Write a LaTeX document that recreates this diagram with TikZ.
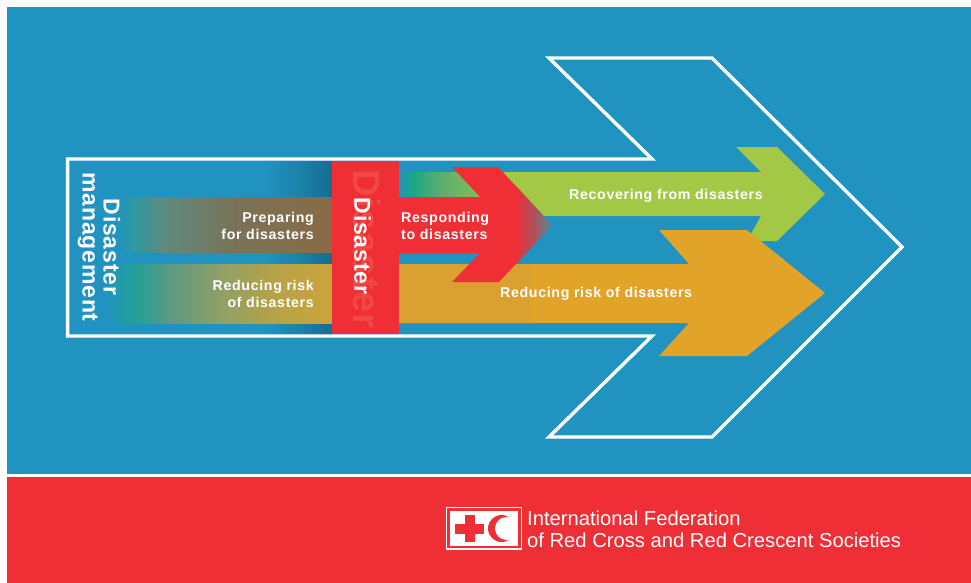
\documentclass[tikz,border=0pt]{standalone}
\usepackage{fontspec}
\setmainfont{Liberation Sans}
\newfontfamily\spacedbold[LetterSpace=4.6]{Liberation Sans Bold}
\newfontfamily\vertbold[LetterSpace=3.6]{Liberation Sans Bold}
\usetikzlibrary{calc}
\definecolor{bgblue}{HTML}{2093C0}
\definecolor{rcred}{HTML}{EF2E35}
\definecolor{ghostred}{HTML}{F1483F}
\definecolor{leaf}{HTML}{A2C845}
\definecolor{amber}{HTML}{E2A329}
\definecolor{stripdark}{HTML}{156C92}
\definecolor{stripmid}{HTML}{1D84AC}
\definecolor{prepA}{HTML}{2F9AA0}
\definecolor{prepB}{HTML}{5F8A80}
\definecolor{prepC}{HTML}{7A7258}
\definecolor{prepD}{HTML}{8A6B45}
\definecolor{redA}{HTML}{20A09A}
\definecolor{redB}{HTML}{5F9A80}
\definecolor{redC}{HTML}{8F9F68}
\definecolor{redD}{HTML}{B5A348}
\definecolor{redE}{HTML}{CDA33A}
\definecolor{tealA}{HTML}{18A884}
\definecolor{tealB}{HTML}{5CAE70}
\definecolor{tealC}{HTML}{85BF55}
\definecolor{tipdark}{HTML}{B0505A}
\definecolor{tipgrey}{HTML}{4F8C95}
\definecolor{amberdark}{HTML}{DBA130}
\pgfdeclarehorizontalshading{stripshade}{100bp}{color(0bp)=(bgblue); color(25bp)=(bgblue); color(62bp)=(bgblue); color(68bp)=(stripmid); color(75bp)=(stripdark); color(100bp)=(stripdark)}
\pgfdeclarehorizontalshading{prepband}{100bp}{color(0bp)=(bgblue); color(25bp)=(bgblue); color(29bp)=(prepA); color(36bp)=(prepB); color(52bp)=(prepC); color(75bp)=(prepD); color(100bp)=(prepD)}
\pgfdeclarehorizontalshading{riskband}{100bp}{color(0bp)=(bgblue); color(25bp)=(bgblue); color(31bp)=(redA); color(40bp)=(redB); color(50bp)=(redC); color(62bp)=(redD); color(75bp)=(redE); color(100bp)=(redE)}
\pgfdeclarehorizontalshading{leafband}{100bp}{color(0bp)=(bgblue); color(25bp)=(bgblue); color(33bp)=(tealA); color(50bp)=(tealB); color(75bp)=(tealC); color(100bp)=(tealC)}
\pgfdeclarehorizontalshading{tipband}{100bp}{color(0bp)=(rcred); color(25bp)=(rcred); color(50bp)=(tipdark); color(75bp)=(tipgrey); color(100bp)=(tipgrey)}
\tikzset{
  x=1pt,y=-1pt,
  outline/.style={draw=white,line width=3.4pt,miter limit=10,line join=miter},
  lab/.style={text=white,font=\spacedbold\fontsize{14.2}{17}\selectfont,inner sep=0pt,align=right},
  vlab/.style={text=white,font=\vertbold\fontsize{23}{21}\selectfont,inner sep=0pt,align=center,rotate=-90},
  logotext/.style={text=white,font=\fontsize{20.2}{23}\selectfont,inner sep=0pt,align=left,anchor=west},
}
\begin{document}
\begin{tikzpicture}
\useasboundingbox (0,0) rectangle (971,583);
\fill[white] (0,0) rectangle (971,583);
\fill[bgblue] (7,7) rectangle (971,474);
\fill[rcred] (7,477) rectangle (971,583);
% inner gradients
\shade[shading=stripshade] (70,161) rectangle (332,334);
\shade[shading=prepband] (118,197) rectangle (332,252);
\shade[shading=riskband] (105,264) rectangle (332,323);
% green arrow
\shade[shading=leafband] (399,172) rectangle (482,197);
\fill[leaf] (480,172) -- (761,172) -- (736,147) -- (777,147) -- (825,194) -- (777,241) -- (747,241) -- (761,216) -- (480,216) -- cycle;
% amber arrow
\fill[amber] (399,264) -- (689,264) -- (659,230) -- (747,230) -- (825,293) -- (747,356) -- (659,356) -- (689,323) -- (399,323) -- cycle;
\fill[amberdark] (399,264) rectangle (530,323);
% red arrow and cross band
\fill[rcred] (399,197) -- (480,197) -- (452,167) -- (498,167) -- (552,225) -- (499,282) -- (452,282) -- (480,253) -- (399,253) -- cycle;
\begin{scope}
\clip (515,185) -- (552,225) -- (515,265) -- cycle;
\shade[shading=tipband] (515,180) rectangle (552,270);
\end{scope}
\fill[rcred] (332,161) rectangle (399,334);
% white arrow outline
\draw[outline] (67.6,159) -- (652,159) -- (549,58) -- (712,58) -- (902,247) -- (712,437) -- (549,437) -- (652,336) -- (67.6,336) -- cycle;
% labels
\node[vlab,text=ghostred,font=\vertbold\fontsize{38}{40}\selectfont] (ghost) at (367,249) {Disaster};
\node[vlab] (dis) at (362.5,246) {Disaster};
\node[vlab] (mgmt) at (99,247) {Disaster\\management};
\node[lab,anchor=east] (prep) at (314,226) {Preparing\\for disasters};
\node[lab,anchor=east] (risk) at (314,294) {Reducing risk\\of disasters};
\node[lab,anchor=west,align=left] (resp) at (401,226) {Responding\\to disasters};
\node[lab,anchor=west] (recov) at (569,196) {Recovering from disasters};
\node[lab,anchor=west] (riskb) at (500,294) {Reducing risk of disasters};
% logo
\draw[white,line width=1.1pt] (446.5,507.5) rectangle (521.5,549);
\fill[white] (450,511) rectangle (518,546);
\fill[rcred] (465,515) rectangle (475,542);
\fill[rcred] (455,523.5) rectangle (484,534);
\fill[rcred] (501.5,528.5) circle[radius=13.5];
\fill[white] (506.5,528.5) circle[radius=11.5];
\node[logotext] (l1) at (527,518) {International Federation};
\node[logotext] (l2) at (527,540) {of Red Cross and Red Crescent Societies};
\end{tikzpicture}
\end{document}
